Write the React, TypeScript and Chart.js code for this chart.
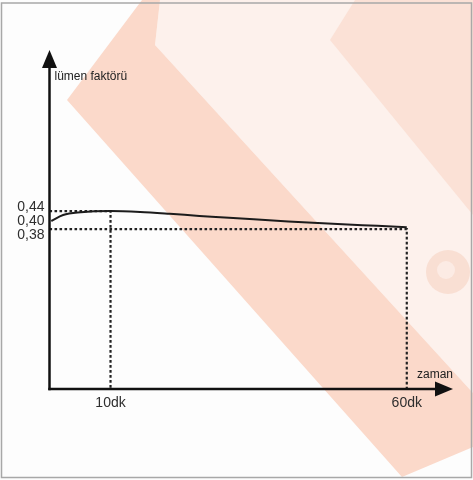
import React, { useEffect, useRef } from "react";
import { Chart, registerables } from "chart.js";

Chart.register(...registerables);

// ---- data ----
const timeMinutes = [0, 2, 5, 10, 15, 20, 25, 30, 40, 50, 55, 60];
const lumenFactor = [0.407, 0.427, 0.436, 0.44, 0.437, 0.431, 0.424, 0.418, 0.405, 0.395, 0.391, 0.386];
const yMarkValues = [0.44, 0.4, 0.38];
const yMarkLabels = ["0,44", "0,40", "0,38"];
const xMarkValues = [10, 60];
const xMarkLabels = ["10dk", "60dk"];
const yAxisTitle = "lümen faktörü";
const xAxisTitle = "zaman";

const X_MIN = -0.3;
const X_MAX = 67.8;
const Y_MIN = -0.153;
const Y_MAX = 0.977;

const FONT = "'Liberation Sans', Arial, Helvetica, sans-serif";

const backgroundPlugin = {
  id: "bgDecor",
  beforeDraw(chart: any) {
    const ctx = chart.ctx;
    const W = chart.width;
    const H = chart.height;
    ctx.save();
    ctx.fillStyle = "#fdfdfd";
    ctx.fillRect(0, 0, W, H);

    const poly = (pts: number[][], color: string) => {
      ctx.beginPath();
      ctx.moveTo(pts[0][0], pts[0][1]);
      for (let i = 1; i < pts.length; i++) ctx.lineTo(pts[i][0], pts[i][1]);
      ctx.closePath();
      ctx.fillStyle = color;
      ctx.fill();
    };
    // light pink region
    poly([[160, 0], [473, 0], [473, 393], [155, 45]], "#fdf1ec");
    // medium patch top right
    poly([[355, 0], [473, 0], [473, 215], [330, 40]], "#fbe1d6");
    // circle
    ctx.beginPath();
    ctx.arc(448, 272, 22, 0, Math.PI * 2);
    ctx.fillStyle = "#f9dfd3";
    ctx.fill();
    ctx.beginPath();
    ctx.arc(446, 270, 9, 0, Math.PI * 2);
    ctx.fillStyle = "#fcebe4";
    ctx.fill();
    // salmon band
    poly(
      [[67, 100], [142, 0], [160, 0], [155, 45], [473, 393], [473, 447], [402, 477]],
      "#fbd9ca"
    );
    // frame
    ctx.strokeStyle = "#a8a8a8";
    ctx.lineWidth = 1.5;
    ctx.strokeRect(1.5, 3, 470, 474.5);
    ctx.restore();
  },
};

const axesPlugin = {
  id: "arrowAxes",
  afterDatasetsDraw(chart: any) {
    const ctx = chart.ctx;
    const { left, right, top, bottom } = chart.chartArea;
    const xs = chart.scales.x;
    const ys = chart.scales.y;
    ctx.save();
    ctx.strokeStyle = "#111";
    ctx.fillStyle = "#111";
    ctx.lineWidth = 2.5;
    // y axis
    ctx.beginPath();
    ctx.moveTo(left, bottom + 1.2);
    ctx.lineTo(left, top + 14);
    ctx.stroke();
    ctx.beginPath();
    ctx.moveTo(left, top);
    ctx.lineTo(left - 7.5, top + 18);
    ctx.lineTo(left + 7.5, top + 18);
    ctx.closePath();
    ctx.fill();
    // x axis
    ctx.beginPath();
    ctx.moveTo(left - 1.2, bottom);
    ctx.lineTo(right - 14, bottom);
    ctx.stroke();
    ctx.beginPath();
    ctx.moveTo(right, bottom);
    ctx.lineTo(right - 18, bottom - 7.5);
    ctx.lineTo(right - 18, bottom + 7.5);
    ctx.closePath();
    ctx.fill();

    // texts
    ctx.fillStyle = "#2e2e2e";
    ctx.font = `14px ${FONT}`;
    ctx.textBaseline = "middle";
    ctx.textAlign = "right";
    // y labels: natural positions, spread apart to avoid overlap
    const nat = yMarkValues.map((v) => ys.getPixelForValue(v));
    const mean = nat.reduce((a, b) => a + b, 0) / nat.length;
    const gap = 14;
    const order = nat.map((p, i) => ({ p, i })).sort((a, b) => a.p - b.p);
    order.forEach((o, k) => {
      const y = mean + (k - (order.length - 1) / 2) * gap;
      ctx.fillText(yMarkLabels[o.i], left - 5, y);
    });
    // x labels
    ctx.textAlign = "center";
    xMarkValues.forEach((v, i) => {
      ctx.fillText(xMarkLabels[i], xs.getPixelForValue(v), bottom + 14);
    });
    // titles
    ctx.font = `12px ${FONT}`;
    ctx.textAlign = "left";
    ctx.fillStyle = "#222";
    ctx.fillText(yAxisTitle, left + 5, top + 27);
    ctx.textAlign = "right";
    ctx.fillText(xAxisTitle, right, bottom - 14);
    ctx.restore();
  },
};

export default function App() {
  const ref = useRef<HTMLCanvasElement | null>(null);
  useEffect(() => {
    if (!ref.current) return;
    const curve = timeMinutes.map((t, i) => ({ x: t, y: lumenFactor[i] }));
    const guidePeak = [
      { x: X_MIN, y: yMarkValues[0] },
      { x: xMarkValues[0], y: yMarkValues[0] },
      { x: xMarkValues[0], y: Y_MIN },
    ];
    const guideEnd = [
      { x: X_MIN, y: yMarkValues[2] },
      { x: xMarkValues[1], y: yMarkValues[2] },
      { x: xMarkValues[1], y: Y_MIN },
    ];
    const dashed = {
      borderColor: "#222",
      borderWidth: 2.2,
      borderDash: [2.6, 2.4],
      pointRadius: 0,
      tension: 0,
      fill: false,
    };
    const chart = new Chart(ref.current, {
      type: "line",
      data: {
        datasets: [
          {
            label: yAxisTitle,
            data: curve,
            borderColor: "#1c1c1c",
            borderWidth: 2,
            pointRadius: 0,
            cubicInterpolationMode: "monotone",
            fill: false,
          },
          { label: "g1", data: guidePeak, ...dashed },
          { label: "g2", data: guideEnd, ...dashed },
        ],
      },
      options: {
        animation: false,
        responsive: false,
        devicePixelRatio: 1,
        layout: { padding: { left: 49.5, top: 50, right: 20, bottom: 91 } },
        plugins: { legend: { display: false }, tooltip: { enabled: false } },
        scales: {
          x: { type: "linear", min: X_MIN, max: X_MAX, display: false },
          y: { type: "linear", min: Y_MIN, max: Y_MAX, display: false },
        },
      },
      plugins: [backgroundPlugin, axesPlugin],
    } as any);
    return () => chart.destroy();
  }, []);
  return (
    <div style={{ position: "absolute", left: 0, top: 0, width: 473, height: 480 }}>
      <canvas ref={ref} width={473} height={480} style={{ display: "block" }} />
    </div>
  );
}
